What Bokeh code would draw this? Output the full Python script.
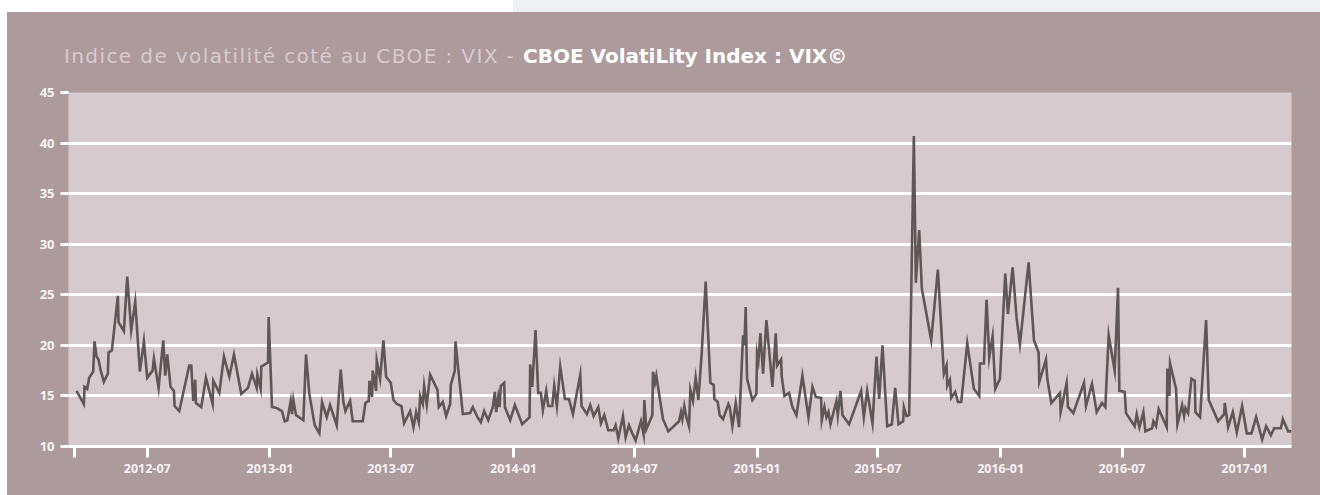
import pandas as pd
from bokeh.plotting import figure
from bokeh.models import Range1d, FixedTicker, Div
from bokeh.layouts import column
from bokeh.embed import file_html
from bokeh.resources import INLINE

title_part1 = "Indice de volatilité coté au CBOE : VIX - "
title_part2 = "CBOE VolatiLity Index : VIX©"

dates = [
    "2012-03-17", "2012-03-28", "2012-03-29", "2012-04-02", "2012-04-05", "2012-04-11", "2012-04-13",
    "2012-04-16", "2012-04-19", "2012-04-22", "2012-04-27", "2012-05-03", "2012-05-04", "2012-05-09",
    "2012-05-18", "2012-05-19", "2012-05-27", "2012-06-01", "2012-06-07", "2012-06-13", "2012-06-20",
    "2012-06-26", "2012-07-01", "2012-07-09", "2012-07-11", "2012-07-18", "2012-07-25", "2012-07-28",
    "2012-07-31", "2012-08-05", "2012-08-10", "2012-08-11", "2012-08-18", "2012-09-02", "2012-09-05",
    "2012-09-08", "2012-09-11", "2012-09-12", "2012-09-20", "2012-09-27", "2012-10-07", "2012-10-08",
    "2012-10-17", "2012-10-24", "2012-11-01", "2012-11-08", "2012-11-19", "2012-11-29", "2012-12-05",
    "2012-12-12", "2012-12-13", "2012-12-18", "2012-12-19", "2012-12-29", "2012-12-30", "2013-01-04",
    "2013-01-11", "2013-01-19", "2013-01-23", "2013-01-27", "2013-02-01", "2013-02-03", "2013-02-05",
    "2013-02-09", "2013-02-20", "2013-02-24", "2013-03-01", "2013-03-09", "2013-03-16", "2013-03-20",
    "2013-03-27", "2013-04-01", "2013-04-11", "2013-04-17", "2013-04-21", "2013-04-24", "2013-05-01",
    "2013-05-05", "2013-05-20", "2013-05-24", "2013-05-29", "2013-05-30", "2013-06-03", "2013-06-04",
    "2013-06-09", "2013-06-10", "2013-06-15", "2013-06-20", "2013-06-24", "2013-07-01", "2013-07-05",
    "2013-07-10", "2013-07-17", "2013-07-21", "2013-07-30", "2013-08-04", "2013-08-08", "2013-08-12",
    "2013-08-14", "2013-08-18", "2013-08-20", "2013-08-24", "2013-08-29", "2013-09-09", "2013-09-11",
    "2013-09-17", "2013-09-22", "2013-09-28", "2013-09-29", "2013-10-05", "2013-10-06", "2013-10-17",
    "2013-10-28", "2013-11-01", "2013-11-08", "2013-11-13", "2013-11-18", "2013-11-24", "2013-12-01",
    "2013-12-04", "2013-12-06", "2013-12-09", "2013-12-11", "2013-12-13", "2013-12-18", "2013-12-19",
    "2013-12-27", "2014-01-03", "2014-01-14", "2014-01-25", "2014-01-26", "2014-01-29", "2014-02-03",
    "2014-02-07", "2014-02-11", "2014-02-14", "2014-02-19", "2014-02-22", "2014-02-28", "2014-03-03",
    "2014-03-07", "2014-03-12", "2014-03-19", "2014-03-25", "2014-03-31", "2014-04-11", "2014-04-13",
    "2014-04-21", "2014-04-26", "2014-05-01", "2014-05-08", "2014-05-12", "2014-05-17", "2014-05-23",
    "2014-05-31", "2014-06-03", "2014-06-07", "2014-06-14", "2014-06-18", "2014-06-23", "2014-06-28",
    "2014-07-03", "2014-07-11", "2014-07-15", "2014-07-16", "2014-07-19", "2014-07-28", "2014-07-29",
    "2014-08-01", "2014-08-03", "2014-08-13", "2014-08-21", "2014-09-06", "2014-09-09", "2014-09-11",
    "2014-09-14", "2014-09-17", "2014-09-21", "2014-09-23", "2014-09-27", "2014-10-01", "2014-10-05",
    "2014-10-10", "2014-10-16", "2014-10-23", "2014-10-28", "2014-10-29", "2014-11-03", "2014-11-06",
    "2014-11-11", "2014-11-19", "2014-11-21", "2014-11-25", "2014-11-30", "2014-12-05", "2014-12-11",
    "2014-12-13", "2014-12-15", "2014-12-17", "2014-12-25", "2014-12-31", "2015-01-01", "2015-01-03",
    "2015-01-06", "2015-01-10", "2015-01-15", "2015-01-24", "2015-01-29", "2015-01-31", "2015-02-06",
    "2015-02-07", "2015-02-11", "2015-02-18", "2015-02-23", "2015-03-01", "2015-03-10", "2015-03-19",
    "2015-03-25", "2015-03-30", "2015-04-07", "2015-04-08", "2015-04-12", "2015-04-15", "2015-04-18",
    "2015-04-21", "2015-04-30", "2015-05-02", "2015-05-06", "2015-05-09", "2015-05-19", "2015-06-06",
    "2015-06-10", "2015-06-15", "2015-06-23", "2015-06-29", "2015-07-03", "2015-07-08", "2015-07-15",
    "2015-07-22", "2015-07-27", "2015-08-01", "2015-08-08", "2015-08-09", "2015-08-13", "2015-08-17",
    "2015-08-24", "2015-08-27", "2015-09-01", "2015-09-05", "2015-09-19", "2015-09-29", "2015-10-08",
    "2015-10-12", "2015-10-13", "2015-10-17", "2015-10-19", "2015-10-25", "2015-10-29", "2015-11-03",
    "2015-11-12", "2015-11-22", "2015-11-30", "2015-12-01", "2015-12-07", "2015-12-11", "2015-12-15",
    "2015-12-20", "2015-12-24", "2015-12-31", "2016-01-08", "2016-01-12", "2016-01-19", "2016-01-25",
    "2016-01-30", "2016-02-12", "2016-02-20", "2016-02-27", "2016-02-28", "2016-03-09", "2016-03-11",
    "2016-03-17", "2016-03-30", "2016-03-31", "2016-04-09", "2016-04-11", "2016-04-19", "2016-05-05",
    "2016-05-08", "2016-05-17", "2016-05-24", "2016-06-01", "2016-06-06", "2016-06-11", "2016-06-20",
    "2016-06-25", "2016-06-27", "2016-07-05", "2016-07-07", "2016-07-20", "2016-07-23", "2016-07-27",
    "2016-08-02", "2016-08-05", "2016-08-15", "2016-08-17", "2016-08-21", "2016-08-25", "2016-09-06",
    "2016-09-07", "2016-09-10", "2016-09-11", "2016-09-20", "2016-09-22", "2016-09-29", "2016-10-02",
    "2016-10-04", "2016-10-08", "2016-10-13", "2016-10-18", "2016-10-19", "2016-10-26", "2016-11-04",
    "2016-11-08", "2016-11-22", "2016-12-01", "2016-12-02", "2016-12-07", "2016-12-14", "2016-12-20",
    "2016-12-28", "2017-01-04", "2017-01-11", "2017-01-18", "2017-01-27", "2017-02-02", "2017-02-09",
    "2017-02-14", "2017-02-24", "2017-02-27", "2017-03-07", "2017-03-12",
]

vix = [
    15.5, 14.2, 15.9, 15.7, 16.8, 17.4, 20.4,
    18.9, 18.6, 17.6, 16.4, 17.2, 19.3, 19.5,
    24.9, 22.3, 21.4, 26.8, 21.5, 24.3, 17.4,
    20.4, 16.8, 17.5, 18.7, 15.8, 20.5, 17.0,
    19.1, 15.9, 15.5, 14.0, 13.5, 18.0, 18.0,
    14.5, 16.6, 14.3, 13.9, 16.8, 14.2, 16.5,
    15.3, 18.9, 16.9, 19.1, 15.2, 15.8, 17.2,
    15.8, 17.1, 15.7, 17.9, 18.3, 22.8, 13.9,
    13.8, 13.5, 12.5, 12.6, 14.5, 13.2, 14.6,
    13.1, 12.6, 19.1, 15.2, 12.1, 11.3, 14.4,
    12.9, 14.1, 12.1, 17.6, 14.4, 13.5, 14.5,
    12.5, 12.5, 14.3, 14.5, 16.5, 14.9, 17.5,
    15.5, 18.5, 16.7, 20.5, 16.9, 16.3, 14.6,
    14.2, 14.0, 12.3, 13.5, 11.9, 13.4, 12.4,
    15.0, 14.2, 16.0, 14.1, 17.1, 15.6, 13.9,
    14.4, 13.0, 14.2, 16.1, 17.5, 20.4, 13.2,
    13.3, 13.9, 12.9, 12.4, 13.5, 12.6, 13.9,
    15.4, 13.4, 14.9, 13.9, 16.0, 16.3, 13.9,
    12.6, 14.1, 12.2, 12.9, 18.1, 15.9, 21.5,
    15.3, 15.3, 13.6, 15.5, 14.0, 14.0, 16.0,
    14.0, 17.9, 14.7, 14.7, 13.2, 17.1, 14.0,
    13.2, 14.1, 13.0, 13.9, 12.3, 13.1, 11.6,
    11.6, 12.1, 10.8, 13.0, 10.9, 12.1, 11.3,
    10.6, 12.5, 11.2, 14.6, 11.7, 13.1, 17.4,
    16.3, 17.0, 12.7, 11.5, 12.5, 13.4, 12.7,
    14.0, 12.9, 12.0, 15.6, 14.5, 16.8, 14.6,
    19.2, 26.3, 16.3, 16.1, 14.7, 14.4, 13.1,
    12.7, 14.2, 13.9, 12.0, 14.3, 11.9, 21.0,
    20.0, 23.8, 16.7, 14.6, 15.2, 19.2, 18.5,
    21.2, 17.2, 22.5, 15.9, 21.2, 18.0, 18.6,
    16.9, 15.0, 15.3, 13.9, 13.1, 17.0, 12.9,
    15.9, 14.9, 14.8, 12.6, 13.9, 12.9, 13.4,
    12.2, 14.5, 13.1, 15.5, 13.1, 12.2, 15.5,
    12.9, 15.5, 12.3, 18.9, 14.7, 20.0, 12.0,
    12.2, 15.8, 12.2, 12.5, 13.9, 13.0, 13.1,
    40.7, 26.2, 31.4, 25.6, 20.5, 27.5, 17.2,
    18.0, 16.0, 16.6, 14.8, 15.4, 14.4, 14.4,
    20.2, 15.7, 15.0, 18.2, 18.2, 24.5, 18.8,
    20.9, 15.7, 16.7, 27.1, 23.1, 27.7, 22.7,
    20.1, 28.2, 20.5, 19.3, 16.4, 18.6, 16.7,
    14.3, 15.3, 13.4, 16.3, 13.9, 13.3, 16.3,
    14.0, 16.2, 13.4, 14.3, 13.9, 21.0, 17.5,
    25.7, 15.5, 15.4, 13.3, 12.0, 13.2, 11.9,
    13.4, 11.5, 11.8, 12.5, 12.0, 13.7, 11.9,
    17.7, 15.0, 18.2, 15.7, 12.2, 14.1, 13.0,
    13.8, 13.3, 16.7, 16.5, 13.4, 12.9, 22.5,
    14.6, 12.5, 13.2, 14.3, 11.9, 13.4, 11.4,
    14.0, 11.3, 11.3, 12.9, 10.7, 12.0, 11.1,
    11.8, 11.8, 12.7, 11.5, 11.5,
]

x_start, x_end = "2012-03-05", "2017-03-12"
axis_start_tick = "2012-03-14"
tick_labels = ["2012-07", "2013-01", "2013-07", "2014-01", "2014-07",
               "2015-01", "2015-07", "2016-01", "2016-07", "2017-01"]
y_ticks = [10, 15, 20, 25, 30, 35, 40, 45]

PANEL = "#ad9a9d"
PLOT_BG = "#d7cace"
LINE = "#5f5657"
WHITE = "#ffffff"
LABEL = "#f7f2f3"
TITLE_LIGHT = "#d9cbcf"

x = pd.to_datetime(dates)

p = figure(width=1313, height=413, x_axis_type="datetime",
           x_range=Range1d(pd.Timestamp(x_start), pd.Timestamp(x_end)),
           y_range=Range1d(10, 45),
           output_backend="svg", toolbar_location=None,
           min_border_left=61, min_border_right=29,
           min_border_top=10, min_border_bottom=49,
           margin=(0, 0, 0, 0))
p.background_fill_color = PLOT_BG
p.border_fill_color = PANEL
p.outline_line_color = None

p.line(x, vix, line_color=LINE, line_width=2.6, line_join="miter")

def ms(ts):
    return float(pd.Timestamp(ts).value // 10**6)

tick_ms = [ms(axis_start_tick)] + [ms(t + "-01") for t in tick_labels]
overrides = {ms(axis_start_tick): ""}
for t in tick_labels:
    overrides[ms(t + "-01")] = t

xa = p.xaxis[0]
xa.ticker = FixedTicker(ticks=tick_ms)
xa.major_label_overrides = overrides
xa.axis_line_color = WHITE
xa.axis_line_width = 3
xa.major_tick_line_color = WHITE
xa.major_tick_line_width = 3
xa.major_tick_out = 11
xa.major_tick_in = 0
xa.minor_tick_line_color = None
xa.major_label_standoff = 6
xa.major_label_text_color = LABEL
xa.major_label_text_font = "Open Sans"
xa.major_label_text_font_style = "bold"
xa.major_label_text_font_size = "12.5px"

ya = p.yaxis[0]
ya.ticker = FixedTicker(ticks=y_ticks)
ya.axis_line_color = None
ya.major_tick_line_color = WHITE
ya.major_tick_line_width = 3
ya.major_tick_out = 8
ya.major_tick_in = 0
ya.minor_tick_line_color = None
ya.major_label_standoff = 6
ya.major_label_text_color = LABEL
ya.major_label_text_font = "Open Sans"
ya.major_label_text_font_style = "bold"
ya.major_label_text_font_size = "13px"

p.xgrid.grid_line_color = None
p.ygrid.ticker = FixedTicker(ticks=y_ticks)
p.ygrid.grid_line_color = WHITE
p.ygrid.grid_line_width = 3

strip = Div(text="", width=1320, height=12, margin=(0, 0, 0, 0),
            styles={"background": "linear-gradient(to right, #ffffff 513px, #edf1f4 513px)",
                    "overflow": "hidden"})

title_html = (
    '<div style="padding:32px 0 0 57px; line-height:24px; white-space:nowrap; '
    'font-family:\'DejaVu Sans\'; font-size:20px;">'
    f'<span style="color:{TITLE_LIGHT}; letter-spacing:1.4px;">{title_part1}</span>'
    f'<span style="color:{WHITE}; font-weight:bold;">{title_part2}</span>'
    '</div>'
)
title_div = Div(text=title_html, width=1313, height=70, margin=(0, 0, 0, 0),
                styles={"background-color": PANEL, "overflow": "hidden"})

panel = column(title_div, p, spacing=0, margin=(0, 0, 0, 7),
               styles={"background-color": PANEL})
layout = column(strip, panel, spacing=0)
open("out.html", "w").write(file_html(layout, INLINE))
